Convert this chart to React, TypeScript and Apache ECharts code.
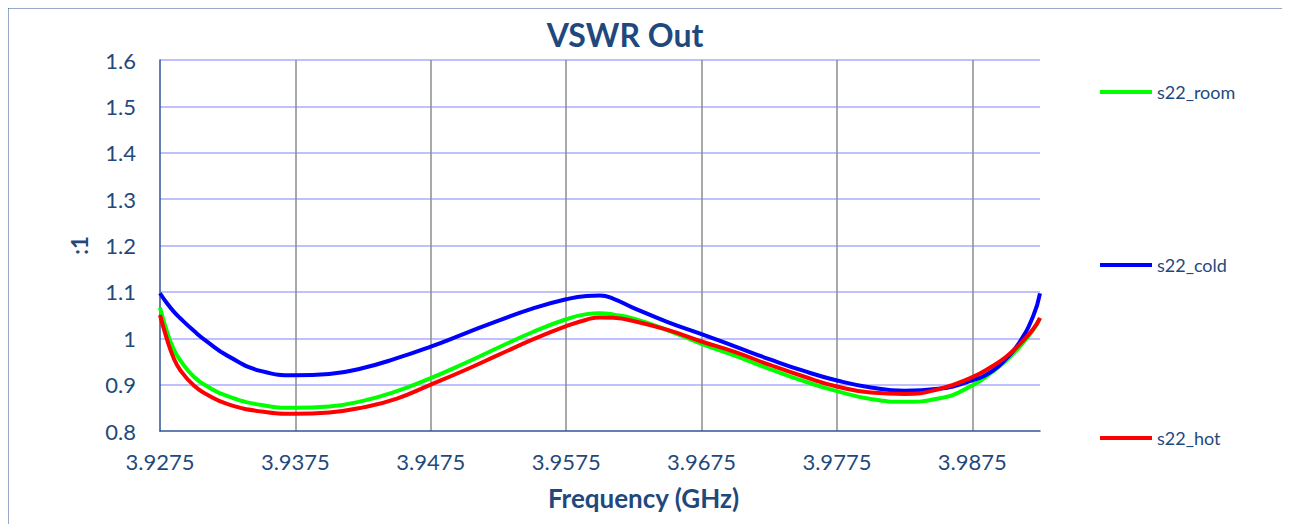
import React, { useEffect, useRef } from "react";
import * as echarts from "echarts";

const freqs = [
  3.9275, 3.928, 3.9285, 3.929, 3.93, 3.931, 3.9325, 3.935, 3.9375, 3.94, 3.9425, 3.945,
  3.9475, 3.95, 3.9525, 3.955, 3.9575, 3.959, 3.96, 3.961, 3.9625, 3.965, 3.9675, 3.97,
  3.9725, 3.975, 3.9775, 3.98, 3.9825, 3.985, 3.9875, 3.989, 3.99, 3.991, 3.992, 3.9925,
];

const s22Room = [
  1.066, 1.016, 0.977, 0.952, 0.917, 0.896, 0.875, 0.856, 0.85, 0.853, 0.865, 0.886,
  0.914, 0.946, 0.98, 1.013, 1.041, 1.052, 1.054, 1.051, 1.042, 1.017, 0.988, 0.962,
  0.934, 0.908, 0.886, 0.869, 0.863, 0.87, 0.898, 0.928, 0.952, 0.982, 1.018, 1.043,
];

const s22Cold = [
  1.097, 1.076, 1.058, 1.043, 1.016, 0.992, 0.962, 0.929, 0.92, 0.923, 0.936, 0.957,
  0.982, 1.01, 1.038, 1.064, 1.084, 1.091, 1.092, 1.085, 1.065, 1.035, 1.009, 0.982,
  0.955, 0.93, 0.909, 0.894, 0.887, 0.891, 0.909, 0.93, 0.956, 0.992, 1.048, 1.097,
];

const s22Hot = [
  1.05, 0.999, 0.958, 0.931, 0.898, 0.878, 0.858, 0.842, 0.837, 0.84, 0.851, 0.87,
  0.9, 0.931, 0.964, 0.997, 1.026, 1.04, 1.045, 1.044, 1.037, 1.018, 0.993, 0.97,
  0.943, 0.918, 0.896, 0.883, 0.88, 0.89, 0.916, 0.94, 0.96, 0.987, 1.02, 1.044,
];

const seriesNames = ["s22_room", "s22_cold", "s22_hot"];
const seriesColors = ["#00FF00", "#0000FF", "#FF0000"];
const seriesValues = [s22Room, s22Cold, s22Hot];

const FONT = "Lato";
const TEXT = "#1F497D";
const AXIS = "#2F5597";

export default function App() {
  const ref = useRef<HTMLDivElement>(null);

  useEffect(() => {
    if (!ref.current) return;
    const chart = echarts.init(ref.current, null, { renderer: "svg" });
    chart.setOption({
      animation: false,
      backgroundColor: "#FFFFFF",
      textStyle: { fontFamily: FONT },
      title: {
        text: "VSWR Out",
        left: 625,
        top: 18,
        padding: 0,
        textAlign: "center",
        textStyle: { fontFamily: FONT, fontWeight: "bold", fontSize: 32, color: TEXT },
      },
      legend: {
        orient: "vertical",
        left: 1100,
        top: 81,
        padding: 0,
        itemWidth: 52,
        itemHeight: 4,
        itemGap: 151,
        icon: "rect",
        data: seriesNames,
        textStyle: { fontFamily: FONT, fontSize: 18, color: TEXT, lineHeight: 22 },
      },
      graphic: {
        elements: [
          {
            type: "rect",
            left: 6,
            top: 6,
            z: 100,
            silent: true,
            shape: { width: 1282, height: 530 },
            style: { fill: "rgba(0,0,0,0)", stroke: AXIS, lineWidth: 2.5 },
          },
        ],
      },
      grid: { left: 160, top: 60, right: 250, bottom: 93 },
      xAxis: {
        type: "value",
        min: 3.9275,
        max: 3.9925,
        interval: 0.01,
        name: "Frequency (GHz)",
        nameLocation: "middle",
        nameGap: 54,
        nameTextStyle: {
          fontFamily: FONT,
          fontWeight: "bold",
          fontSize: 26,
          color: TEXT,
          padding: [0, 0, 0, 87],
        },
        axisLine: { show: true, lineStyle: { color: AXIS, width: 1.5 } },
        axisTick: { show: false },
        axisLabel: {
          fontFamily: FONT,
          fontSize: 22,
          color: TEXT,
          margin: 19,
          showMaxLabel: false,
          formatter: (v: number) => v.toFixed(4),
        },
        splitLine: {
          show: true,
          showMinLine: false,
          showMaxLine: false,
          lineStyle: { color: "#8C8C8C", width: 1.5 },
        },
      },
      yAxis: {
        type: "value",
        min: 0.8,
        max: 1.6,
        interval: 0.1,
        name: ":1",
        nameLocation: "middle",
        nameRotate: 90,
        nameGap: 70,
        nameTextStyle: { fontFamily: FONT, fontWeight: "bold", fontSize: 22, color: TEXT },
        axisLine: { show: true, lineStyle: { color: AXIS, width: 1.5 } },
        axisTick: { show: false },
        axisLabel: {
          fontFamily: FONT,
          fontSize: 22,
          color: TEXT,
          margin: 24,
          formatter: (v: number) => String(Math.round(v * 10) / 10),
        },
        splitLine: {
          show: true,
          showMinLine: false,
          lineStyle: { color: "#C0C0FF", width: 2 },
        },
      },
      series: seriesNames.map((name, i) => ({
        name,
        type: "line",
        smooth: true,
        showSymbol: false,
        symbol: "none",
        itemStyle: { color: seriesColors[i] },
        lineStyle: { color: seriesColors[i], width: 4 },
        data: freqs.map((f, j) => [f, seriesValues[i][j]]),
      })),
    });
    return () => chart.dispose();
  }, []);

  return <div ref={ref} style={{ width: 1290, height: 524, marginLeft: -8, marginTop: -8 }} />;
}
